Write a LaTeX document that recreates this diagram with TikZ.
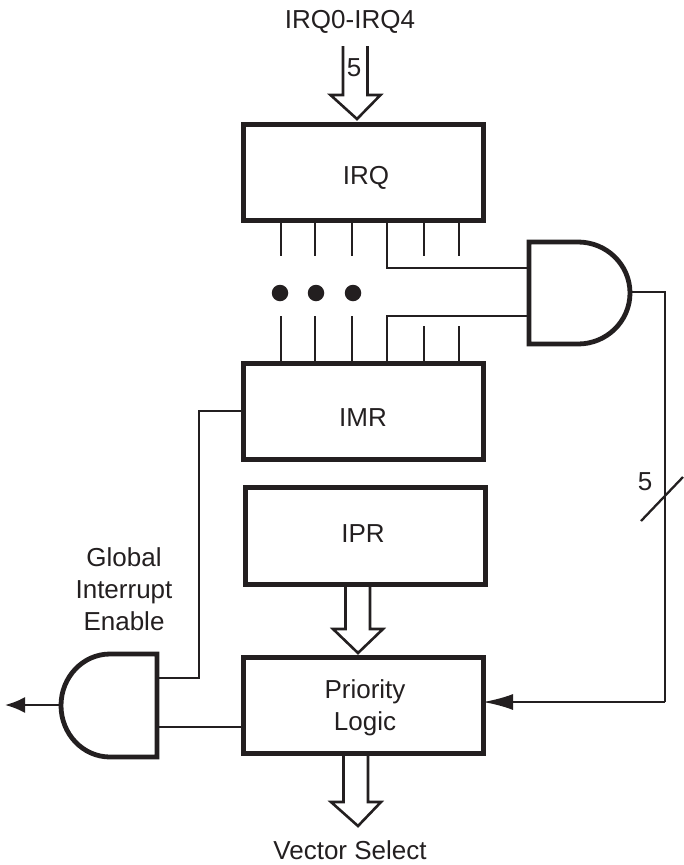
\documentclass[tikz,border=0pt]{standalone}
\usepackage{fontspec}
\setmainfont{Liberation Sans}
\usepackage{tikz}
\usetikzlibrary{positioning}
\usetikzlibrary{calc}
\usetikzlibrary{arrows.meta}
\definecolor{ink}{HTML}{231F20}
\tikzset{regbox/.style={draw=ink, line width=5pt, minimum width=240pt, minimum height=96pt, inner sep=0pt, outer sep=0pt, text=ink, font=\fontsize{26}{32}\selectfont, align=center}}
\tikzset{wire/.style={draw=ink, line width=2.3pt}}
\tikzset{busline/.style={draw=ink, line width=2.6pt, miter limit=10}}
\tikzset{gateline/.style={draw=ink, line width=4.8pt}}
\tikzset{tag/.style={text=ink, inner sep=0pt, font=\fontsize{26}{32}\selectfont, align=center}}
\tikzset{dot/.style={circle, fill=ink, inner sep=0pt, minimum size=16.5pt}}
\newcommand{\busarrow}[3]{\draw[busline] ($(#1)+(#3-12.5,#2)$) -- ($(#1)+(#3-12.5,24)$) -- ($(#1)+(#3-25,24)$) -- (#1) -- ($(#1)+(25+#3,24)$) -- ($(#1)+(#3+12,24)$) -- ($(#1)+(#3+12,#2)$);}
\begin{document}
\begin{tikzpicture}[x=1pt, y=1pt]
\useasboundingbox (0,0) rectangle (683,-865);
\node[regbox, label={[tag, xshift=3pt, yshift=-6pt]center:IRQ}] (irq) at (363,-172) {};
\node[regbox, label={[tag, yshift=-7pt]center:IMR}] (imr) at (363,-411) {};
\node[regbox, minimum height=97pt, label={[tag, xshift=-2pt, yshift=2pt]center:IPR}] (ipr) at (365,-536) {};
\node[regbox] (prio) at (363,-705) {};
\node[tag] (priolabel) at (365,-708) {Priority\\Logic};
\node[tag] (irqname) at (350,-22) {IRQ0-IRQ4};
\node[tag] (irqwidth) at (354,-68) {5};
\node[tag, align=none, anchor=base] (vecname) at (350,-859) {Vector Select};
\node[tag] (genable) at (124,-589.5) {Global\\Interrupt\\Enable};
\node[tag] (sumwidth) at (645,-482) {5};
% bus arrows
\coordinate (irqtip) at (357,-119);
\coordinate (priotip) at (358,-653);
\coordinate (vectip) at (358,-826);
\busarrow{irqtip}{73}{-1.5}
\busarrow{priotip}{69}{0}
\busarrow{vectip}{73}{-2}
% register stubs
\foreach \dx in {38,72,109} {
\draw[wire] ($(irq.south west)+(\dx,0)$) -- ++(0,-36);
\draw[wire] ($(imr.north west)+(\dx,0)$) -- ++(0,47);
}
\foreach \dx in {181,216} {
\draw[wire] ($(irq.south west)+(\dx,0)$) -- ++(0,-36);
\draw[wire] ($(imr.north west)+(\dx,0)$) -- ++(0,37);
}
\node[dot] (dota) at (280,-293) {};
\node[dot] (dotb) at (316,-293) {};
\node[dot] (dotc) at (353,-293) {};
% upper gate
\coordinate (gatea) at (529,-242);
\coordinate (gateaout) at (631,-292);
\coordinate (gateain) at (529,-268);
\coordinate (gateaim) at (529,-316);
\draw[gateline] (gatea) -- ++(49,0) arc[start angle=90, end angle=-90, x radius=52pt, y radius=51pt] -- (529,-344) -- cycle;
\draw[wire] ($(irq.south west)+(144,0)$) |- (gateain);
\draw[wire] ($(imr.north west)+(144,0)$) |- (gateaim);
% lower gate
\coordinate (gateb) at (157,-654);
\coordinate (gatebout) at (61,-705);
\coordinate (gatebin) at (157,-678);
\coordinate (gatebip) at (157,-727);
\coordinate (endout) at (5,-705);
\draw[gateline] (gateb) -- ++(-47,0) arc[start angle=90, end angle=270, x radius=49pt, y radius=51.5pt] -- (157,-757) -- cycle;
\draw[wire] (gatebin) -| (199,-411) -- (imr.west);
\draw[wire] (gatebip) -- (gatebip -| prio.west);
\draw[wire, -{Latex[length=20pt, width=16pt]}] (gatebout) -- (endout);
% summary line
\coordinate (slasha) at (641,-521);
\coordinate (slashb) at (683,-477);
\draw[wire] (gateaout) -| (665,-702) coordinate (bend);
\coordinate (prioin) at (483,-702);
\draw[wire, -{Latex[length=30pt, width=16pt]}] (bend) -- (prioin);
\draw[wire] (slasha) -- (slashb);
\end{tikzpicture}
\end{document}
